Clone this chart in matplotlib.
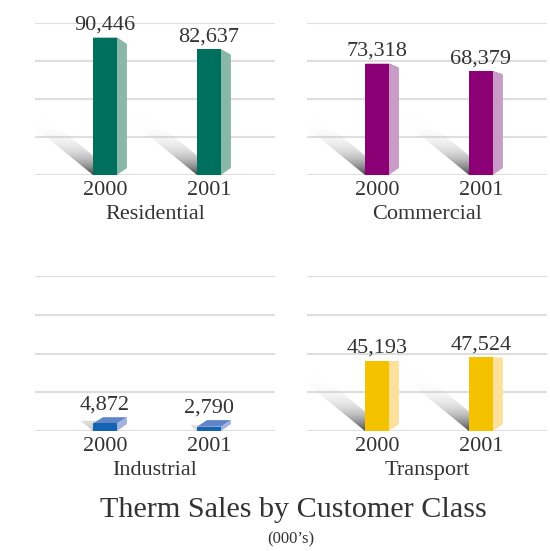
import matplotlib
matplotlib.use("Agg")
import matplotlib.pyplot as plt
from matplotlib.patches import Polygon
import numpy as np

categories = ["Residential", "Commercial", "Industrial", "Transport"]
years = ["2000", "2001"]
sales_2000 = [90446, 73318, 4872, 45193]
sales_2001 = [82637, 68379, 2790, 47524]

# front, side, top colours per class
front_colors = ["#00705e", "#8c0076", "#1564b4", "#f5c200"]
side_colors = ["#8ab8a8", "#c89cc6", "#a2b2de", "#fde09c"]
top_colors = ["#4e9a88", "#b060a8", "#6084c8", "#f8d460"]

TEXT = "#333333"
SERIF = ["Liberation Serif", "DejaVu Serif"]

W, H, DPI = 5.5, 5.51, 100
fig = plt.figure(figsize=(W, H), dpi=DPI)

# axes boxes in pixels: (left, baseline y, top y) -- top-origin
boxes = [(35, 175, 23), (307, 175, 23), (35, 431, 276), (307, 431, 276)]
AX_W = 240
XLIM = (-0.673, 1.635)
YMAX = 100000


def draw_panel(ax, idx):
    vals = [sales_2000[idx], sales_2001[idx]]
    x = np.arange(len(years))
    bw = 0.23

    ax.set_xlim(*XLIM)
    ax.set_ylim(0, YMAX)
    bb = ax.get_position()
    sx = (XLIM[1] - XLIM[0]) / (bb.width * W * DPI)   # data per px
    sy = YMAX / (bb.height * H * DPI)

    # shadows (gradient clipped to a parallelogram)
    for xi, v in zip(x, vals):
        hpx = v / sy
        L = min(70.0, hpx * 1.35)
        dxs = L * 86 / 70
        x0 = xi - bw / 2
        x1 = xi + bw / 2
        poly = Polygon([(x0, 0), (x1, 0), (x1 - dxs * sx, L * sy),
                        (x0 - dxs * sx, L * sy)], closed=True,
                       facecolor="none", edgecolor="none")
        ax.add_patch(poly)
        n = 64
        f = np.linspace(0, 1, n)[:, None] * (L / 70.0)
        alpha = 0.9 * np.clip(1 - f, 0, 1) ** 3.2 * (L / 70.0) ** 0.6
        img = np.zeros((n, 2, 4))
        img[..., :3] = 0.2 + 0.6 * f[..., None]
        img[..., 3] = np.repeat(alpha, 2, axis=1)
        im = ax.imshow(img, extent=(x0 - dxs * sx, x1, 0, L * sy),
                       origin="lower", aspect="auto", zorder=1.5,
                       interpolation="bilinear")
        im.set_clip_path(poly)

    # perspective faces
    k, Hv, D = 0.1, 70.0, 10.0
    for xi, v in zip(x, vals):
        hpx = v / sy
        x0 = xi - bw / 2
        x1 = xi + bw / 2
        top_back = hpx + k * (Hv - hpx)
        bot_back = k * Hv
        top = Polygon([(x0, v), (x1, v), (x1 + D * sx, top_back * sy),
                       (x0 + D * sx, top_back * sy)], closed=True,
                      facecolor=top_colors[idx], edgecolor="none", zorder=2)
        side = Polygon([(x1, 0), (x1, v), (x1 + D * sx, top_back * sy),
                        (x1 + D * sx, bot_back * sy)], closed=True,
                       facecolor=side_colors[idx], edgecolor="none", zorder=2.1)
        ax.add_patch(top)
        ax.add_patch(side)
        lab_y = max(v, top_back * sy)
        ax.annotate(f"{v:,}", (xi, lab_y), xytext=(0, 8),
                    textcoords="offset pixels", ha="center", va="baseline",
                    fontsize=16, family=SERIF, color=TEXT, zorder=4)

    ax.bar(x, vals, width=bw, color=front_colors[idx], zorder=3)

    ax.set_yticks(np.arange(0, YMAX + 1, 25000))
    ax.yaxis.grid(True, color="#dedede", linewidth=1.5)
    ax.set_axisbelow(True)
    ax.tick_params(axis="y", left=False, labelleft=False)
    ax.set_xticks(x)
    ax.set_xticklabels(years, fontsize=16, family=SERIF, color=TEXT)
    ax.tick_params(axis="x", length=0, pad=4)
    ax.set_xlabel(categories[idx], fontsize=16, family=SERIF, color=TEXT,
                  labelpad=4)
    for s in ax.spines.values():
        s.set_visible(False)
    ax.set_xlim(*XLIM)
    ax.set_ylim(0, YMAX)


for i, (left, base, topy) in enumerate(boxes):
    ax = fig.add_axes([left / (W * DPI), 1 - base / (H * DPI),
                       AX_W / (W * DPI), (base - topy) / (H * DPI)])
    ax.patch.set_alpha(0)
    draw_panel(ax, i)

fig.text(293 / (W * DPI), 1 - 517 / (H * DPI), "Therm Sales by Customer Class",
         ha="center", va="baseline", fontsize=21.7, family=SERIF, color=TEXT)
fig.text(291 / (W * DPI), 1 - 543 / (H * DPI), "(000\u2019s)",
         ha="center", va="baseline", fontsize=12, family=SERIF, color=TEXT)

fig.savefig("out.png", dpi=DPI)
